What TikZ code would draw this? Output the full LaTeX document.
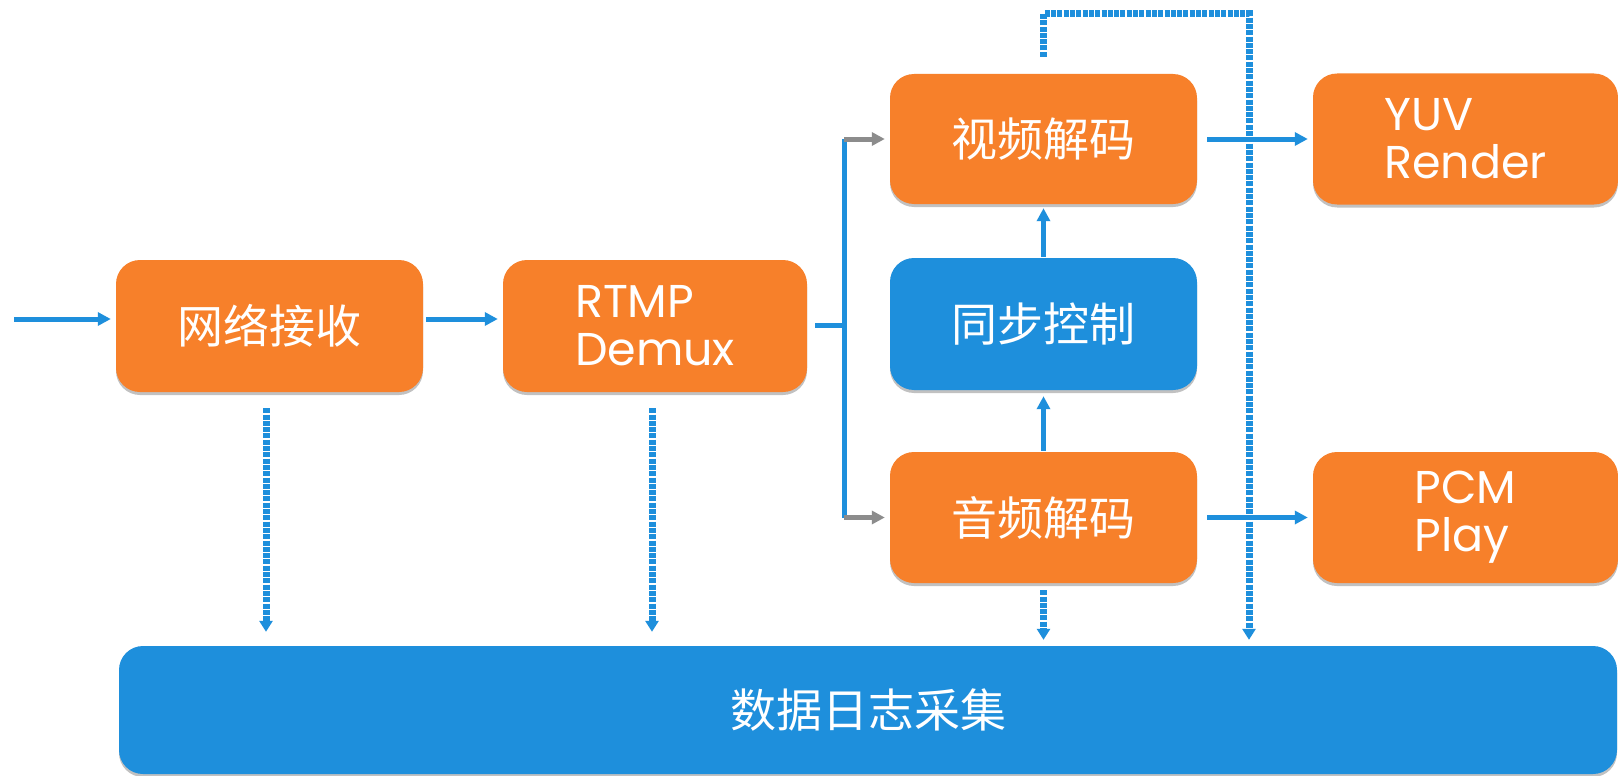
\documentclass[tikz,border=0pt]{standalone}
\usepackage{fontspec}
\setmainfont{Poppins}
\newfontfamily\cjk{Noto Sans CJK SC}
\usetikzlibrary{arrows.meta,shadows}
\definecolor{boxorange}{HTML}{F7802A}
\definecolor{boxblue}{HTML}{1E8FDC}
\definecolor{linegray}{HTML}{8C8C8C}
\tikzset{
  box/.style={rectangle, rounded corners=24pt, inner sep=0pt, text=white,
    align=left, drop shadow={shadow xshift=0pt, shadow yshift=-3pt, opacity=0.4, fill=black!60}},
  obox/.style={box, fill=boxorange},
  bbox/.style={box, fill=boxblue},
  zh/.style={font=\cjk\fontsize{46}{50}\selectfont},
  en/.style={font=\fontsize{46}{48}\selectfont},
  bline/.style={draw=boxblue, line width=5pt},
  barrow/.style={bline, -{Triangle[length=13pt,width=13pt]}},
  garrow/.style={draw=linegray, line width=5pt, -{Triangle[length=13pt,width=13pt]}},
  dasharrow/.style={draw=boxblue, line width=7pt, dash pattern=on 5pt off 1.3pt,
    -{Triangle[length=11pt,width=13pt]}}
}
\begin{document}
\begin{tikzpicture}[x=1pt,y=-1pt]
\useasboundingbox[fill=white] (0,0) rectangle (1618,776);
% nodes
\node[obox, minimum width=307pt, minimum height=132pt, zh] (net) at (269.5,326) {网络接收};
\node[obox, minimum width=304pt, minimum height=132pt, en] (rtmp) at (655,326) {RTMP\\Demux};
\node[obox, minimum width=307pt, minimum height=130pt, zh] (vid) at (1043.5,139) {视频解码};
\node[bbox, minimum width=307pt, minimum height=132pt, zh] (sync) at (1043.5,324) {同步控制};
\node[obox, minimum width=307pt, minimum height=131pt, zh] (aud) at (1043.5,517.5) {音频解码};
\node[obox, minimum width=305pt, minimum height=131pt, en] (yuv) at (1465.5,139) {YUV\\Render};
\node[obox, minimum width=305pt, minimum height=131pt, en] (pcm) at (1465.5,517.5) {PCM\\Play};
\node[bbox, minimum width=1498pt, minimum height=128pt, zh] (log) at (868,710) {数据日志采集};
% input and main chain
\coordinate (in) at (14,319);
\draw[barrow, shorten >=5pt] (in) -- (in -| net.west);
\draw[barrow, shorten <=3pt, shorten >=5pt] (net.east |- in) -- (rtmp.west |- in);
% demux split
\coordinate (split) at (844,325);
\draw[bline, shorten <=8pt] (rtmp.east |- split) -- (split);
\draw[bline] (split |- vid.west) -- (split |- aud.west);
\draw[garrow, shorten >=5pt] (split |- vid.west) -- (vid.west);
\draw[garrow, shorten >=5pt] (split |- aud.west) -- (aud.west);
% sync arrows
\draw[barrow, shorten <=1pt, shorten >=6pt] (aud.north) -- (sync.south);
\draw[barrow, shorten <=1pt, shorten >=4pt] (sync.north) -- (vid.south);
% outputs
\draw[barrow, shorten <=10pt, shorten >=5pt] (vid.east) -- (yuv.west);
\draw[barrow, shorten <=10pt, shorten >=5pt] (aud.east) -- (pcm.west);
% log collection dashed arrows
\draw[dasharrow, shorten <=16pt, shorten >=14pt] (net.south -| 266,0) -- (log.north -| 266,0);
\draw[dasharrow, shorten <=16pt, shorten >=14pt] (rtmp.south -| 652,0) -- (log.north -| 652,0);
\draw[dasharrow, shorten <=7pt, shorten >=6pt] (aud.south) -- (aud.south |- log.north);
\coordinate (top) at (1249,14);
\draw[dasharrow, shorten <=17pt, shorten >=6pt] (vid.north) -- (vid.north |- top) -- (top) -- (top |- log.north);
\end{tikzpicture}
\end{document}
